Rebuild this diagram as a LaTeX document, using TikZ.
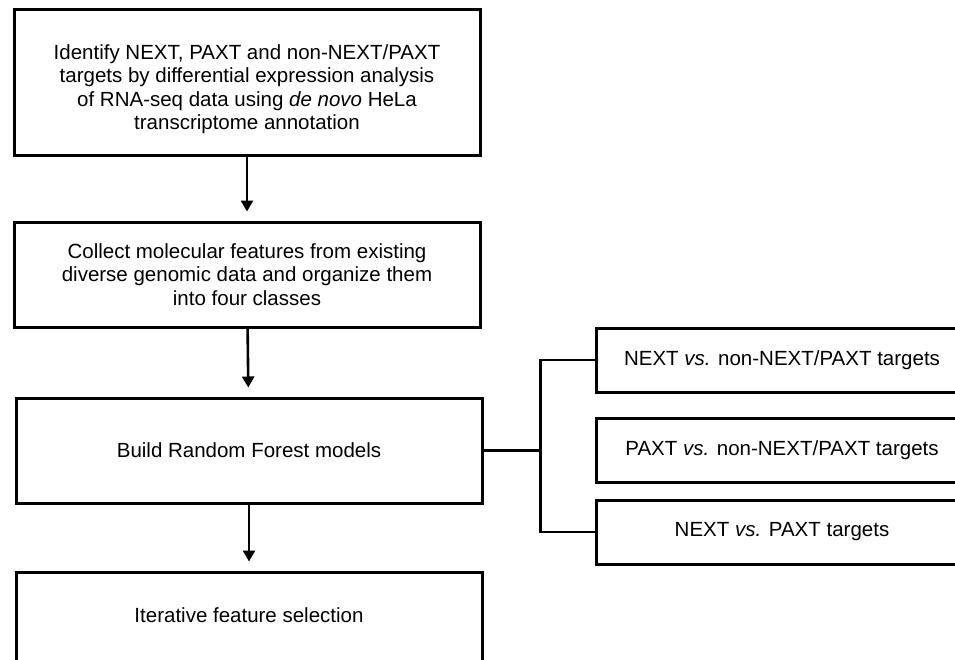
\documentclass[tikz,border=0pt]{standalone}
\usepackage{fontspec}
\setmainfont{Liberation Sans}
\usetikzlibrary{arrows.meta,positioning}

\begin{document}
\begin{tikzpicture}[x=1pt,y=-1pt,
      stepbox/.style={rectangle, draw=black, line width=3pt, inner sep=0pt, align=center, minimum width=466pt, font=\fontsize{20.5}{23.5}\selectfont},
      sidebox/.style={stepbox, minimum width=372pt, minimum height=64pt},
      pfeil/.style={line width=2.6pt, -{Triangle[length=11pt,width=12pt]}, shorten >=9pt},
      link/.style={line width=2.5pt}]

\useasboundingbox (0,0) rectangle (955,659);

\node[stepbox, minimum height=146pt] (b1) at (247,82) {\rule{0pt}{29pt}Identify NEXT, PAXT and non-NEXT/PAXT\\targets by differential expression analysis\\of RNA-seq data using \textit{de novo} HeLa\\transcriptome annotation};
\node[stepbox, minimum height=105pt] (b2) at (247,274.5) {Collect molecular features from existing\\diverse genomic data and organize them\\into four classes};
\node[stepbox, minimum height=105pt] (b3) at (249,450.5) {Build Random Forest models};
\node[stepbox, minimum height=110pt, text height=15pt, text depth=24pt] (b4) at (249,627) {Iterative feature selection};

\node[sidebox] (r1) at (782,360) {NEXT \textit{vs.} non-NEXT/PAXT targets};
\node[sidebox] (r2) at (782,450) {PAXT \textit{vs.} non-NEXT/PAXT targets};
\node[sidebox] (r3) at (782,532) {NEXT \textit{vs.} PAXT targets};

\draw[pfeil] (b1) -- (b2);
\draw[pfeil] (b2) -- (b3);
\draw[pfeil] (b3) -- (b4);

% fork to the three models
\draw[link] (b3.east) -- ++(57,0) coordinate (fork);
\draw[link] (fork) |- (r1.west);
\draw[link] (fork) |- (r3.west);

\end{tikzpicture}
\end{document}
